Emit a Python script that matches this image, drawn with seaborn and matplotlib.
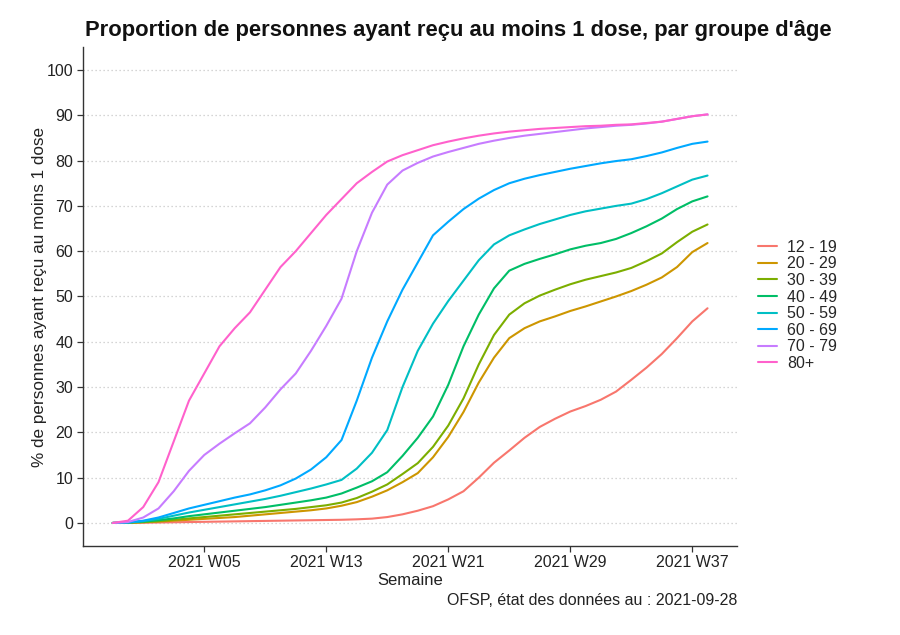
import numpy as np
import pandas as pd
import matplotlib
matplotlib.use("Agg")
import matplotlib.pyplot as plt
import seaborn as sns

weeks = ["2020 W52", "2020 W53"] + [f"2021 W{w:02d}" for w in range(1, 39)]
tick_labels = ["2021 W05", "2021 W13", "2021 W21", "2021 W29", "2021 W37"]
groups = ["12 - 19", "20 - 29", "30 - 39", "40 - 49", "50 - 59", "60 - 69", "70 - 79", "80+"]
colors = ["#F8766D", "#CD9600", "#7CAE00", "#00BE67", "#00BFC4", "#00A9FF", "#C77CFF", "#FF61CC"]

g12_19 = [0, 0.02, 0.05, 0.1, 0.15, 0.2, 0.25, 0.3, 0.35, 0.4, 0.45, 0.5, 0.55, 0.6, 0.65,
          0.7, 0.8, 0.95, 1.3, 1.9, 2.7, 3.7, 5.2, 7.0, 10.0, 13.3, 16.0, 18.8, 21.2, 23.0,
          24.6, 25.8, 27.2, 29.0, 31.6, 34.3, 37.3, 40.8, 44.5, 47.4]
g20_29 = [0, 0.05, 0.15, 0.3, 0.5, 0.7, 0.9, 1.1, 1.3, 1.6, 1.9, 2.2, 2.5, 2.8, 3.2,
          3.8, 4.6, 5.8, 7.2, 9.0, 11.0, 14.5, 19.0, 24.5, 31.0, 36.5, 40.8, 43.0, 44.5, 45.6,
          46.8, 47.8, 48.9, 50.0, 51.2, 52.6, 54.2, 56.5, 59.8, 61.8]
g30_39 = [0, 0.05, 0.2, 0.4, 0.7, 1.0, 1.3, 1.6, 1.9, 2.2, 2.5, 2.8, 3.1, 3.5, 3.9,
          4.5, 5.5, 6.9, 8.5, 10.8, 13.2, 16.8, 21.5, 27.5, 35.0, 41.5, 46.0, 48.5, 50.2, 51.5,
          52.7, 53.7, 54.5, 55.3, 56.3, 57.8, 59.5, 62.0, 64.3, 65.9]
g40_49 = [0, 0.1, 0.3, 0.6, 1.0, 1.5, 1.9, 2.3, 2.7, 3.1, 3.5, 4.0, 4.5, 5.0, 5.6,
          6.5, 7.8, 9.2, 11.2, 14.8, 18.8, 23.5, 30.5, 39.0, 46.0, 51.8, 55.7, 57.2, 58.3, 59.3,
          60.4, 61.2, 61.8, 62.7, 64.0, 65.5, 67.2, 69.3, 71.0, 72.1]
g50_59 = [0, 0.1, 0.4, 0.9, 1.6, 2.3, 2.9, 3.5, 4.1, 4.7, 5.3, 6.0, 6.8, 7.6, 8.5,
          9.5, 12.0, 15.5, 20.5, 30.0, 38.0, 44.0, 49.0, 53.5, 58.0, 61.5, 63.5, 64.8, 66.0, 67.0,
          68.0, 68.8, 69.4, 70.0, 70.5, 71.5, 72.8, 74.3, 75.8, 76.7]
g60_69 = [0, 0.1, 0.5, 1.2, 2.2, 3.2, 4.0, 4.8, 5.6, 6.3, 7.2, 8.3, 9.8, 11.8, 14.5,
          18.3, 27.0, 36.5, 44.5, 51.5, 57.5, 63.5, 66.5, 69.3, 71.6, 73.5, 75.0, 76.0, 76.8, 77.5,
          78.2, 78.8, 79.4, 79.9, 80.3, 81.0, 81.8, 82.8, 83.7, 84.2]
g70_79 = [0, 0.2, 1.2, 3.2, 7.0, 11.5, 15.0, 17.5, 19.8, 22.0, 25.5, 29.5, 33.0, 38.0, 43.5,
          49.5, 60.0, 68.5, 74.7, 77.8, 79.5, 80.9, 81.9, 82.8, 83.7, 84.4, 85.0, 85.5, 85.9, 86.3,
          86.7, 87.1, 87.4, 87.7, 87.9, 88.2, 88.6, 89.2, 89.8, 90.2]
g80p = [0, 0.5, 3.5, 9.0, 18.0, 27.0, 33.0, 39.0, 43.0, 46.5, 51.5, 56.5, 60.0, 64.0, 68.0,
        71.5, 75.0, 77.5, 79.8, 81.2, 82.3, 83.4, 84.2, 84.9, 85.5, 86.0, 86.4, 86.7, 87.0, 87.2,
        87.4, 87.6, 87.7, 87.9, 88.0, 88.3, 88.6, 89.2, 89.8, 90.2]

series = [g12_19, g20_29, g30_39, g40_49, g50_59, g60_69, g70_79, g80p]
rows = []
for grp, vals in zip(groups, series):
    for i, (wk, v) in enumerate(zip(weeks, vals)):
        rows.append({"idx": i, "semaine": wk, "groupe": grp, "pct": v})
df = pd.DataFrame(rows)

sns.set_theme(style="white")
plt.rcParams['font.family'] = ['Liberation Sans', 'DejaVu Sans']

fig = plt.figure(figsize=(9, 6.35), dpi=100)
ax = fig.add_axes([0.0922, 0.1408, 0.727, 0.7846])

sns.lineplot(data=df, x="idx", y="pct", hue="groupe", hue_order=groups,
             palette=colors, linewidth=1.5, ax=ax, legend=True)

n = len(weeks)
span = n - 1
ax.set_xlim(-0.05 * span, span * 1.05)
ax.set_ylim(-5, 105)
ax.set_yticks(np.arange(0, 101, 10))
ax.set_xticks([weeks.index(t) for t in tick_labels])
ax.set_xticklabels(tick_labels)

for y in np.arange(0, 101, 10):
    ax.axhline(y, color="#c8c8c8", linestyle=(0, (1, 2.2)), linewidth=0.9, zorder=0)

for s in ["top", "right"]:
    ax.spines[s].set_visible(False)
for s in ["left", "bottom"]:
    ax.spines[s].set_color("#333333")
    ax.spines[s].set_linewidth(1.0)

ax.tick_params(axis="both", which="major", length=4, width=0.9, color="#333333",
               labelsize=11.5, labelcolor="#222222", pad=3, left=True, bottom=True)

ax.set_xlabel("Semaine", fontsize=12, color="#222222", labelpad=2)
ax.set_ylabel("% de personnes ayant reçu au moins 1 dose", fontsize=12.3, color="#222222", labelpad=0)

fig.text(0.0944, 0.952, "Proportion de personnes ayant reçu au moins 1 dose, par groupe d'âge",
         fontsize=15.8, fontweight="bold", ha="left", va="center", color="#111111")
fig.text(0.819, 0.054, "OFSP, état des données au : 2021-09-28", fontsize=11.5,
         ha="right", va="center", color="#222222")

handles, labels = ax.get_legend_handles_labels()
ax.legend(handles, labels, loc="center left", bbox_to_anchor=(1.01, 0.482), frameon=False,
          fontsize=11.5, handlelength=1.2, handletextpad=0.6, labelspacing=0.1, title=None)

fig.savefig("out.png", dpi=100, facecolor="white")
